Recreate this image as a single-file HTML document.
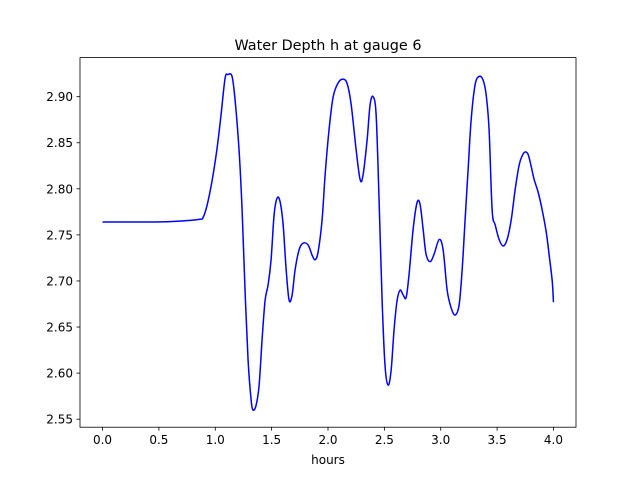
<!DOCTYPE html>
<html><head><meta charset="utf-8"><style>
body{margin:0;background:#fff;}
svg text{font-family:"DejaVu Sans","Liberation Sans",sans-serif;fill:#000;}
</style></head><body>
<svg id="chart" width="640" height="480" xmlns="http://www.w3.org/2000/svg">
<rect width="640" height="480" fill="#fff"/>
<text x="328" y="50" font-size="14.4" text-anchor="middle">Water Depth h at gauge 6</text>
<g id="xt"></g><g id="yt"></g>
<path id="line" fill="none" stroke="#0000ff" stroke-width="1.5"/>
<rect x="80" y="57.6" width="496" height="369.6" fill="none" stroke="#000" stroke-width="0.8"/>
<text x="328" y="464" font-size="12" text-anchor="middle">hours</text>
</svg>
<script>
const hours=[0.00,0.466,0.688,0.865,0.892,0.927,0.972,1.016,1.051,1.087,1.113,1.149,1.176,1.211,1.238,1.264,1.291,1.318,1.335,1.362,1.389,1.415,1.442,1.469,1.495,1.522,1.549,1.575,1.602,1.629,1.655,1.682,1.708,1.744,1.779,1.824,1.859,1.886,1.913,1.948,1.975,2.010,2.046,2.090,2.134,2.170,2.205,2.249,2.285,2.311,2.347,2.373,2.400,2.427,2.453,2.480,2.506,2.533,2.560,2.586,2.613,2.640,2.666,2.693,2.719,2.755,2.790,2.817,2.844,2.870,2.906,2.941,2.986,3.021,3.057,3.092,3.128,3.163,3.190,3.216,3.243,3.270,3.305,3.341,3.376,3.403,3.429,3.456,3.483,3.518,3.554,3.589,3.625,3.660,3.696,3.723,3.749,3.776,3.803,3.829,3.865,3.900,3.936,3.962,3.989,4.000];
const depth=[2.764,2.764,2.765,2.767,2.769,2.782,2.809,2.844,2.880,2.920,2.924,2.922,2.896,2.842,2.777,2.690,2.614,2.571,2.560,2.565,2.587,2.636,2.679,2.696,2.723,2.772,2.790,2.786,2.761,2.712,2.679,2.685,2.712,2.734,2.741,2.739,2.728,2.723,2.732,2.767,2.816,2.865,2.900,2.915,2.919,2.914,2.892,2.843,2.810,2.815,2.853,2.891,2.900,2.880,2.788,2.679,2.608,2.587,2.603,2.647,2.679,2.690,2.685,2.682,2.707,2.756,2.785,2.783,2.756,2.729,2.721,2.729,2.745,2.734,2.690,2.671,2.663,2.674,2.712,2.766,2.821,2.875,2.913,2.922,2.918,2.902,2.864,2.777,2.761,2.745,2.738,2.745,2.766,2.799,2.826,2.836,2.840,2.837,2.824,2.810,2.796,2.777,2.753,2.728,2.700,2.677];
const xTicks=[0,0.5,1,1.5,2,2.5,3,3.5,4];
const yTicks=[2.55,2.60,2.65,2.70,2.75,2.80,2.85,2.90];
const X0=80,X1=576,Y0=57.6,Y1=427.2;
const xmin=-0.2,xmax=4.2,ymin=2.5413,ymax=2.9424;
const sx=v=>X0+(v-xmin)/(xmax-xmin)*(X1-X0);
const sy=v=>Y1-(v-ymin)/(ymax-ymin)*(Y1-Y0);
const NS="http://www.w3.org/2000/svg";
const xt=document.getElementById('xt'),yt=document.getElementById('yt');
xTicks.forEach(t=>{
  const l=document.createElementNS(NS,'line');
  
  
  l.setAttribute('x1',sx(t));l.setAttribute('x2',sx(t));l.setAttribute('y1',Y1);l.setAttribute('y2',Y1+3.5);l.setAttribute('stroke','#000');l.setAttribute('stroke-width','0.8');
  xt.appendChild(l);
  const s=document.createElementNS(NS,'text');
  
  
  s.setAttribute('x',sx(t));s.setAttribute('y',Y1+17);s.setAttribute('font-size','12');s.setAttribute('text-anchor','middle');
  s.textContent=t.toFixed(1);xt.appendChild(s);
});
yTicks.forEach(t=>{
  const l=document.createElementNS(NS,'line');
  
  
  l.setAttribute('x1',X0-3.5);l.setAttribute('x2',X0);l.setAttribute('y1',sy(t));l.setAttribute('y2',sy(t));l.setAttribute('stroke','#000');l.setAttribute('stroke-width','0.8');
  yt.appendChild(l);
  const s=document.createElementNS(NS,'text');
  
  
  s.setAttribute('x',X0-7);s.setAttribute('y',sy(t)+4.5);s.setAttribute('font-size','12');s.setAttribute('text-anchor','end');
  s.textContent=t.toFixed(2);yt.appendChild(s);
});
const P=hours.map((h,i)=>[sx(h),sy(depth[i])]);
let d='M'+P[0][0]+','+P[0][1];
for(let i=0;i<P.length-1;i++){
  const p0=P[Math.max(i-1,0)],p1=P[i],p2=P[i+1],p3=P[Math.min(i+2,P.length-1)];
  const c1=[p1[0]+(p2[0]-p0[0])/6,p1[1]+(p2[1]-p0[1])/6];
  const c2=[p2[0]-(p3[0]-p1[0])/6,p2[1]-(p3[1]-p1[1])/6];
  d+=` C${c1[0]},${c1[1]} ${c2[0]},${c2[1]} ${p2[0]},${p2[1]}`;
}
document.getElementById('line').setAttribute('d',d);
</script>
</body></html>
